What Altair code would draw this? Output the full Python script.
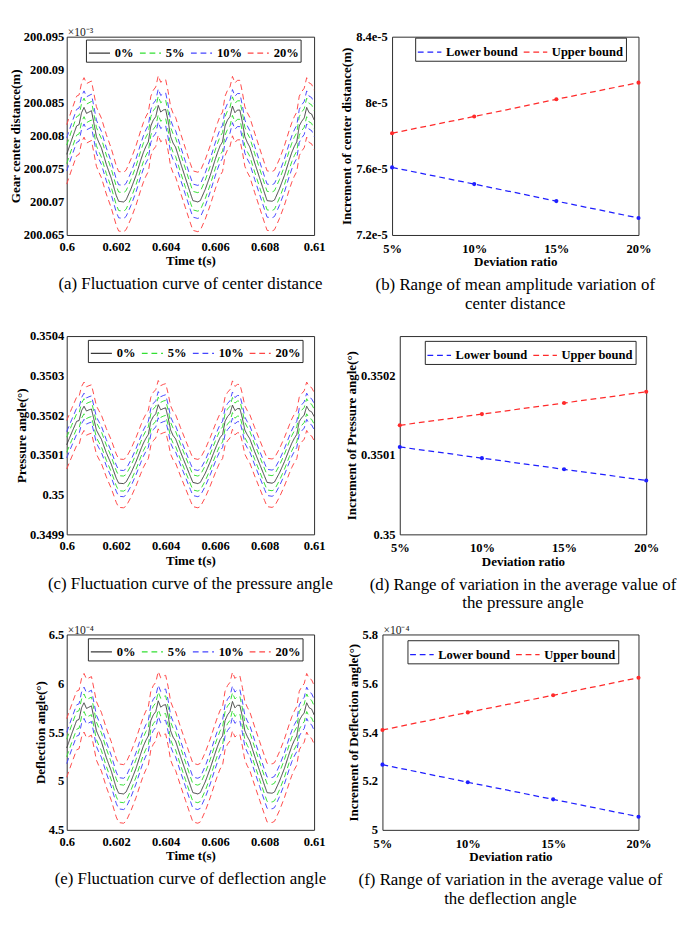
import altair as alt
import pandas as pd

FONT = "Liberation Serif"

# ---------------- time-series panels (a), (c), (e) ----------------
time_s = [0.6000, 0.6002, 0.6004, 0.6005, 0.6006, 0.6007, 0.6008, 0.6009, 0.6010, 0.6011, 0.6012, 0.6013, 0.6014,
          0.6016, 0.6018, 0.6020, 0.6021, 0.6023, 0.6024, 0.6026, 0.6028, 0.6030, 0.6031, 0.6032, 0.6033, 0.6034,
          0.6035, 0.6036, 0.6037, 0.6038, 0.6039, 0.6040, 0.6041, 0.6042, 0.6043, 0.6044, 0.6046, 0.6048, 0.6050,
          0.6051, 0.6053, 0.6054, 0.6056, 0.6058, 0.6060, 0.6061, 0.6062, 0.6063, 0.6064, 0.6065, 0.6066, 0.6067,
          0.6068, 0.6069, 0.6070, 0.6071, 0.6072, 0.6073, 0.6074, 0.6076, 0.6078, 0.6080, 0.6081, 0.6083, 0.6084,
          0.6086, 0.6088, 0.6090, 0.6091, 0.6092, 0.6093, 0.6094, 0.6095, 0.6096, 0.6097, 0.6098, 0.6099, 0.6100]

# (a) gear centre distance, 0% curve (x10^-3 m)
center_0 = [200.0772, 200.0794, 200.0815, 200.0817, 200.0835, 200.0843, 200.0834, 200.0836, 200.0838, 200.0819, 200.0799, 200.0790, 200.0782,
            200.0757, 200.0736, 200.0710, 200.0701, 200.0700, 200.0703, 200.0720, 200.0740, 200.0764, 200.0775, 200.0784, 200.0791, 200.0815,
            200.0824, 200.0829, 200.0846, 200.0836, 200.0839, 200.0840, 200.0822, 200.0799, 200.0789, 200.0783, 200.0759, 200.0736, 200.0713,
            200.0702, 200.0700, 200.0702, 200.0719, 200.0740, 200.0764, 200.0775, 200.0785, 200.0791, 200.0815, 200.0824, 200.0829, 200.0845,
            200.0835, 200.0839, 200.0839, 200.0821, 200.0799, 200.0790, 200.0783, 200.0759, 200.0736, 200.0713, 200.0702, 200.0701, 200.0703,
            200.0720, 200.0740, 200.0764, 200.0775, 200.0784, 200.0791, 200.0815, 200.0822, 200.0827, 200.0843, 200.0835, 200.0833, 200.0824]
center_band = [0.0014, 0.0025, 0.0045]          # half-widths of 5%, 10%, 20% envelopes

# (c) pressure angle, 0% curve (deg)
pressure_0 = [0.350126, 0.350156, 0.350185, 0.350187, 0.350212, 0.350223, 0.350211, 0.350214, 0.350216, 0.350190, 0.350163, 0.350151, 0.350140,
              0.350106, 0.350077, 0.350042, 0.350029, 0.350028, 0.350032, 0.350055, 0.350083, 0.350115, 0.350130, 0.350142, 0.350152, 0.350185,
              0.350197, 0.350204, 0.350227, 0.350214, 0.350217, 0.350219, 0.350194, 0.350163, 0.350149, 0.350141, 0.350108, 0.350077, 0.350046,
              0.350031, 0.350028, 0.350031, 0.350054, 0.350083, 0.350115, 0.350130, 0.350144, 0.350152, 0.350185, 0.350197, 0.350204, 0.350226,
              0.350212, 0.350217, 0.350217, 0.350193, 0.350163, 0.350151, 0.350141, 0.350108, 0.350077, 0.350046, 0.350031, 0.350029, 0.350032,
              0.350055, 0.350083, 0.350115, 0.350130, 0.350142, 0.350152, 0.350185, 0.350194, 0.350201, 0.350223, 0.350212, 0.350209, 0.350197]
pressure_band = [0.000019, 0.000033, 0.000061]

# (e) deflection angle, 0% curve (x10^-4 deg)
deflect_0 = [5.338, 5.482, 5.619, 5.631, 5.750, 5.801, 5.743, 5.756, 5.769, 5.645, 5.514, 5.455, 5.404,
             5.240, 5.103, 4.933, 4.875, 4.868, 4.888, 4.999, 5.129, 5.285, 5.358, 5.416, 5.462, 5.619,
             5.677, 5.710, 5.821, 5.756, 5.775, 5.782, 5.665, 5.514, 5.449, 5.409, 5.253, 5.103, 4.953,
             4.881, 4.868, 4.881, 4.992, 5.129, 5.285, 5.358, 5.423, 5.462, 5.619, 5.677, 5.710, 5.814,
             5.750, 5.775, 5.775, 5.658, 5.514, 5.455, 5.409, 5.253, 5.103, 4.953, 4.881, 4.875, 4.888,
             4.999, 5.129, 5.285, 5.358, 5.416, 5.462, 5.619, 5.665, 5.697, 5.801, 5.750, 5.736, 5.677]
deflect_band = [0.09, 0.16, 0.30]

band_series = ["0%", "5%", "10%", "20%"]
band_colors = ["#3a3a3a", "#33e033", "#4646ff", "#ff4646"]
band_dashes = [[1, 0], [6, 4], [6, 4], [6, 4]]
time_ticks = [0.6, 0.602, 0.604, 0.606, 0.608, 0.61]

# ---------------- deviation-ratio panels (b), (d), (f) ----------------
ratio = [5, 10, 15, 20]
center_lower = [7.609e-5, 7.508e-5, 7.405e-5, 7.303e-5]
center_upper = [7.816e-5, 7.917e-5, 8.021e-5, 8.122e-5]
pressure_lower = [0.3501102, 0.3500961, 0.3500820, 0.3500680]
pressure_upper = [0.3501375, 0.3501516, 0.3501656, 0.3501797]
deflect_lower = [5.267, 5.195, 5.125, 5.054]
deflect_upper = [5.409, 5.481, 5.551, 5.623]

bound_series = ["Lower bound", "Upper bound"]
bound_colors = ["#1f1fff", "#ff2a2a"]


def band_frame(base, offsets):
    rows = []
    for t, v in zip(time_s, base):
        rows.append({"t": t, "series": "0%", "side": "mid", "v": v})
        for name, d in zip(band_series[1:], offsets):
            rows.append({"t": t, "series": name, "side": "up", "v": v + d})
            rows.append({"t": t, "series": name, "side": "low", "v": v - d})
    return pd.DataFrame(rows)


def make_legend(x, y, cols, sym, **kw):
    return alt.Legend(orient="none", legendX=x, legendY=y, offset=0, direction="horizontal", columns=cols,
                      title=None, symbolType="stroke", symbolSize=sym, symbolStrokeWidth=1.2,
                      labelFont=FONT, labelFontWeight="bold", labelFontSize=13, labelColor="black",
                      strokeColor="#222222", fillColor="white", padding=2, columnPadding=3, labelOffset=4, **kw)


def caption(lines):
    return alt.TitleParams(text=lines, orient="bottom", anchor="middle", font=FONT, fontSize=17.5,
                           fontWeight="normal", color="black", offset=9, lineHeight=19)


def exponent_layer(txt, visible):
    return alt.Chart(pd.DataFrame({"label": [txt]})).mark_text(
        align="left", baseline="alphabetic", font=FONT, fontSize=12, dy=-1,
        color="#222222" if visible else "white"
    ).encode(x=alt.value(1), y=alt.value(0), text="label:N")


def time_panel(base, offsets, ytitle, ydom, yticks, w, h, exp_text, cap, lx, ly):
    df = band_frame(base, offsets)
    leg = make_legend(lx, ly, 4, 480)
    lines = alt.Chart(df).mark_line(strokeWidth=1).encode(
        x=alt.X("t:Q", scale=alt.Scale(domain=[0.6, 0.61], nice=False, zero=False),
                axis=alt.Axis(values=time_ticks, format="~g", title="Time t(s)", labelFlush=False,
                              labelOverlap=False, labelPadding=6, titlePadding=1)),
        y=alt.Y("v:Q", scale=alt.Scale(domain=ydom, nice=False, zero=False),
                axis=alt.Axis(values=yticks, format="~f", title=ytitle, labelOverlap=False,
                              labelPadding=3, titlePadding=1)),
        color=alt.Color("series:N", scale=alt.Scale(domain=band_series, range=band_colors), legend=leg),
        strokeDash=alt.StrokeDash("series:N", scale=alt.Scale(domain=band_series, range=band_dashes), legend=leg),
        detail="side:N",
    )
    ex = exponent_layer(exp_text or "×10⁻³", bool(exp_text))
    return alt.layer(lines, ex).properties(width=w, height=h, title=caption(cap))


def ratio_panel(lower, upper, ytitle, ydom, yticks, yaxis_kw, w, h, exp_text, cap, lx, ly):
    df = pd.DataFrame({"ratio": ratio + ratio, "v": lower + upper,
                       "bound": [bound_series[0]] * 4 + [bound_series[1]] * 4})
    leg = make_legend(lx, ly, 2, 600, symbolDash=[6, 4])
    lines = alt.Chart(df).mark_line(strokeWidth=1.3, strokeDash=[6, 4],
                                    point=alt.OverlayMarkDef(filled=True, size=18)).encode(
        x=alt.X("ratio:Q", scale=alt.Scale(domain=[5, 20], nice=False, zero=False),
                axis=alt.Axis(values=ratio, labelExpr="datum.value + '%'", title="Deviation ratio",
                              labelFlush=False, labelOverlap=False, labelPadding=8, titlePadding=0)),
        y=alt.Y("v:Q", scale=alt.Scale(domain=ydom, nice=False, zero=False),
                axis=alt.Axis(values=yticks, title=ytitle, labelOverlap=False, labelPadding=5,
                              titlePadding=2, **yaxis_kw)),
        color=alt.Color("bound:N", scale=alt.Scale(domain=bound_series, range=bound_colors), legend=leg),
    )
    ex = exponent_layer(exp_text or "×10⁻⁴", bool(exp_text))
    return alt.layer(lines, ex).properties(width=w, height=h, title=caption(cap))


pa = time_panel(center_0, center_band, "Gear center distance(m)", [200.065, 200.095],
                [200.065, 200.07, 200.075, 200.08, 200.085, 200.09, 200.095], 257, 206, "×10⁻³",
                ["(a) Fluctuation curve of center distance"], 20, 3)
pb = ratio_panel(center_lower, center_upper, "Increment of center distance(m)", [7.2e-5, 8.4e-5],
                 [7.2e-5, 7.6e-5, 8e-5, 8.4e-5],
                 {"labelExpr": "format(datum.value * 100000, '~g') + 'e-5'"}, 256, 206, None,
                 ["(b) Range of mean amplitude variation of", "center distance"], 24, 1)

pc = time_panel(pressure_0, pressure_band, "Pressure angle(°)", [0.3499, 0.3504],
                [0.3499, 0.35, 0.3501, 0.3502, 0.3503, 0.3504], 257, 206, None,
                ["(c) Fluctuation curve of the pressure angle"], 22, 4)
pd_ = ratio_panel(pressure_lower, pressure_upper, "Increment of Pressure angle(°)", [0.35, 0.35025],
                  [0.35, 0.3501, 0.3502], {"format": "~f"}, 256, 206, None,
                  ["(d) Range of variation in the average value of", "the pressure angle"], 26, 5)

pe = time_panel(deflect_0, deflect_band, "Deflection angle(°)", [4.5, 6.5],
                [4.5, 5, 5.5, 6, 6.5], 257, 203, "×10⁻⁴",
                ["(e) Fluctuation curve of deflection angle"], 22, 4)
pf = ratio_panel(deflect_lower, deflect_upper, "Increment of Deflection angle(°)", [5, 5.8],
                 [5, 5.2, 5.4, 5.6, 5.8], {"format": "~f"}, 266, 203, "×10⁻⁴",
                 ["(f) Range of variation in the average value of", "the deflection angle"], 26, 6)


def indep(c):
    return c.resolve_scale(
        x="independent", y="independent", color="independent", strokeDash="independent"
    ).resolve_legend(color="independent", strokeDash="independent")


row1 = indep(alt.hconcat(pa, pb, spacing=14))
row2 = indep(alt.hconcat(pc, pd_, spacing=10))
row3 = indep(alt.hconcat(pe, pf, spacing=19))

upper_rows = indep(alt.vconcat(row1, row2, spacing=12))
chart = indep(alt.vconcat(upper_rows, row3, spacing=11)).properties(
    padding={"left": 0, "top": 0, "right": 0, "bottom": 0}
).configure_view(
    stroke="#262626", strokeWidth=1
).configure_axis(
    domain=False, ticks=False, grid=False,
    labelFont=FONT, labelFontWeight="bold", labelFontSize=13, labelColor="black",
    titleFont=FONT, titleFontWeight="bold", titleFontSize=13.5, titleColor="black"
)

chart.save("out.html", embed_options={"renderer": "svg", "actions": False})
